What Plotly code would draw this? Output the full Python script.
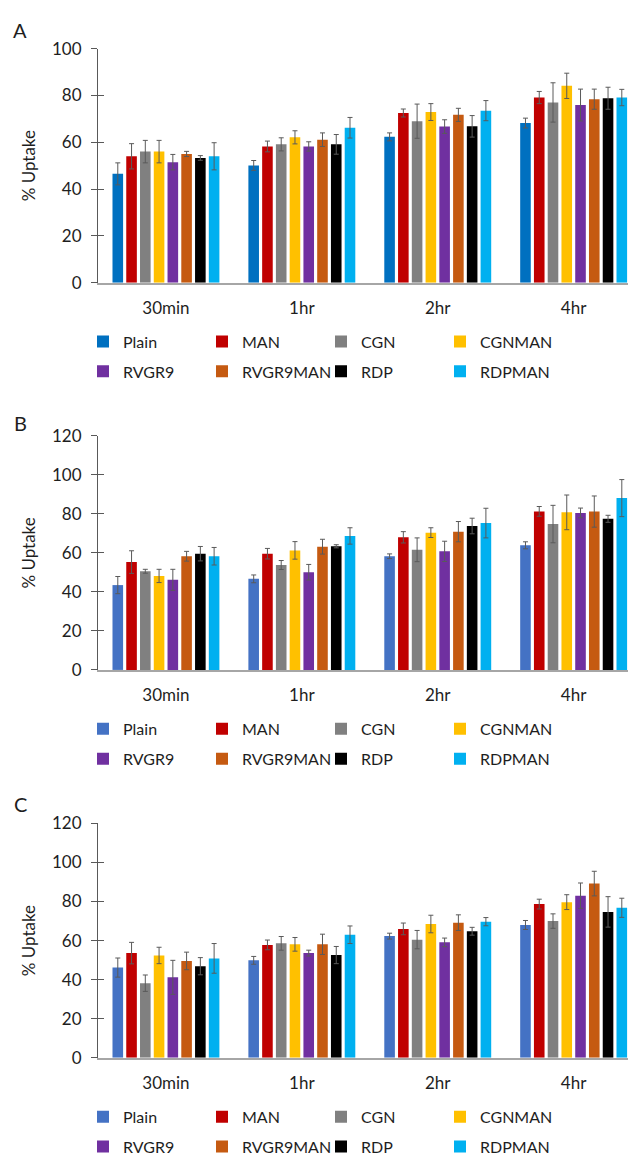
import plotly.graph_objects as go

categories = ["30min", "1hr", "2hr", "4hr"]
series = ["Plain", "MAN", "CGN", "CGNMAN", "RVGR9", "RVGR9MAN", "RDP", "RDPMAN"]
colors = ["#0070C0", "#C00000", "#808080", "#FFC000", "#7030A0", "#C55A11", "#000000", "#00B0F0"]
plain_color_bc = "#4472C4"

# Panel A: rows = series, columns = categories
A_mean = [
    [46.5, 50.1, 62.3, 68.2],
    [54.0, 58.2, 72.5, 79.1],
    [56.0, 59.1, 69.0, 77.0],
    [56.0, 62.1, 72.9, 84.1],
    [51.5, 58.2, 66.7, 75.9],
    [55.0, 61.1, 71.7, 78.4],
    [53.3, 59.1, 66.8, 78.8],
    [54.0, 66.2, 73.5, 79.1],
]
A_err = [
    [4.7, 2.1, 1.7, 2.1],
    [5.4, 2.3, 1.7, 2.6],
    [4.8, 2.8, 7.3, 8.4],
    [4.8, 2.8, 3.6, 5.4],
    [3.3, 2.0, 2.9, 6.8],
    [1.1, 2.9, 2.8, 4.3],
    [1.0, 4.2, 4.6, 4.7],
    [5.8, 4.4, 4.3, 3.5],
]

B_mean = [
    [43.5, 46.7, 58.3, 63.9],
    [55.3, 59.6, 68.0, 81.3],
    [50.6, 53.8, 61.6, 74.8],
    [48.2, 61.3, 70.4, 80.8],
    [46.2, 50.1, 60.8, 80.5],
    [58.3, 63.2, 70.9, 81.2],
    [59.6, 63.4, 73.8, 77.5],
    [58.3, 68.7, 75.3, 88.1],
]
B_err = [
    [4.4, 2.0, 1.2, 1.8],
    [5.8, 2.7, 2.9, 2.5],
    [1.0, 2.3, 6.1, 9.6],
    [3.4, 4.5, 2.5, 8.9],
    [5.4, 4.0, 5.2, 2.5],
    [2.5, 3.8, 5.2, 8.0],
    [3.7, 0.8, 4.0, 1.8],
    [4.5, 4.2, 7.6, 9.5],
]

C_mean = [
    [46.2, 49.9, 62.3, 68.0],
    [53.6, 57.8, 66.0, 78.7],
    [38.2, 58.6, 60.5, 70.0],
    [52.4, 58.1, 68.5, 79.7],
    [41.2, 53.6, 59.1, 83.0],
    [49.6, 58.1, 69.2, 89.2],
    [46.9, 52.6, 64.8, 74.7],
    [50.9, 63.0, 69.7, 76.8],
]
C_err = [
    [4.9, 2.0, 1.5, 2.3],
    [5.5, 2.5, 3.0, 2.5],
    [4.2, 3.5, 4.7, 3.7],
    [4.2, 3.5, 4.5, 3.8],
    [8.7, 1.5, 2.2, 6.5],
    [4.5, 5.2, 4.0, 6.3],
    [4.4, 4.4, 2.0, 7.8],
    [7.6, 4.5, 2.1, 4.9],
]

W, H = 628, 1167
FONT = "Lato, 'Open Sans', sans-serif"
TXT = "#1e1e1e"

def py(px):
    return 1 - px / H

panels = [
    dict(label="A", means=A_mean, errs=A_err, plain=colors[0], ymax=100,
         top=38.3, bottom=276.7, lab_y=19, leg=(336.7, 367)),
    dict(label="B", means=B_mean, errs=B_err, plain=plain_color_bc, ymax=120,
         top=432.7, bottom=671, lab_y=420, leg=(731, 761.5)),
    dict(label="C", means=C_mean, errs=C_err, plain=plain_color_bc, ymax=120,
         top=827.3, bottom=1066, lab_y=808, leg=(1126, 1156.5)),
]

fig = go.Figure()
layout_extra = {}
annotations = []

for p_i, p in enumerate(panels):
    ax = "" if p_i == 0 else str(p_i + 1)
    tick_ax = str(p_i + 4)
    leg1 = "legend" if p_i == 0 else "legend%d" % (2 * p_i + 1)
    leg2 = "legend%d" % (2 * p_i + 2)
    for s_i, name in enumerate(series):
        col = p["plain"] if s_i == 0 else colors[s_i]
        fig.add_trace(go.Bar(
            x=categories, y=p["means"][s_i], name=name,
            marker=dict(color=col, line=dict(width=0)),
            error_y=dict(type="data", array=p["errs"][s_i], visible=True,
                         color="#5a5a5a", thickness=1, width=2.5),
            xaxis="x" + ax, yaxis="y" + ax,
            legend=leg1 if s_i < 4 else leg2,
            showlegend=True,
        ))
    # invisible trace so the overlay tick axis (inner half of cross ticks) is drawn
    fig.add_trace(go.Scatter(x=[categories[0]], y=[None], mode="markers",
                             xaxis="x" + ax, yaxis="y" + tick_ax,
                             showlegend=False, hoverinfo="skip"))
    layout_extra["xaxis" + ax] = dict(
        domain=[98 / W, 1], anchor="y" + ax, type="category",
        range=[-0.5, 3.40], showline=True, linecolor="#a6a6a6", linewidth=1.7,
        ticks="", showgrid=False, zeroline=False, ticklabelstandoff=9,
        tickfont=dict(family=FONT, size=17, color=TXT),
    )
    layout_extra["yaxis" + ax] = dict(
        domain=[py(p["bottom"]), py(p["top"])], anchor="x" + ax,
        range=[0, p["ymax"]], dtick=20, showline=True, linecolor="#595959",
        linewidth=1, ticks="outside", ticklen=6, tickcolor="#595959",
        showgrid=False, zeroline=False, ticklabelstandoff=6,
        tickfont=dict(family=FONT, size=17, color=TXT),
        title=dict(text="% Uptake", font=dict(family=FONT, size=17, color=TXT),
                   standoff=12),
    )
    layout_extra["yaxis" + tick_ax] = dict(
        overlaying="y" + ax, anchor="x" + ax, side="left",
        range=[0, p["ymax"]], dtick=20, showline=False, ticks="inside",
        ticklen=6, tickcolor="#595959", showticklabels=False,
        showgrid=False, zeroline=False,
    )
    for lg, ypx in zip([leg1, leg2], p["leg"]):
        layout_extra[lg] = dict(
            orientation="h", x=83 / W, xanchor="left", y=py(ypx), yanchor="middle",
            entrywidth=74, font=dict(family=FONT, size=16, color=TXT),
            bgcolor="rgba(0,0,0,0)", traceorder="normal", itemclick=False,
        )
    annotations.append(dict(
        text=p["label"], x=20 / W, y=py(p["lab_y"]), xref="paper", yref="paper",
        xanchor="center", yanchor="middle", showarrow=False,
        font=dict(family=FONT, size=20, color=TXT),
    ))

fig.update_layout(
    width=W, height=H, margin=dict(l=0, r=0, t=0, b=0),
    paper_bgcolor="white", plot_bgcolor="white",
    barmode="group", bargap=0.19, bargroupgap=0.23,
    annotations=annotations, showlegend=True,
    **layout_extra,
)

fig.write_html("out.html")
